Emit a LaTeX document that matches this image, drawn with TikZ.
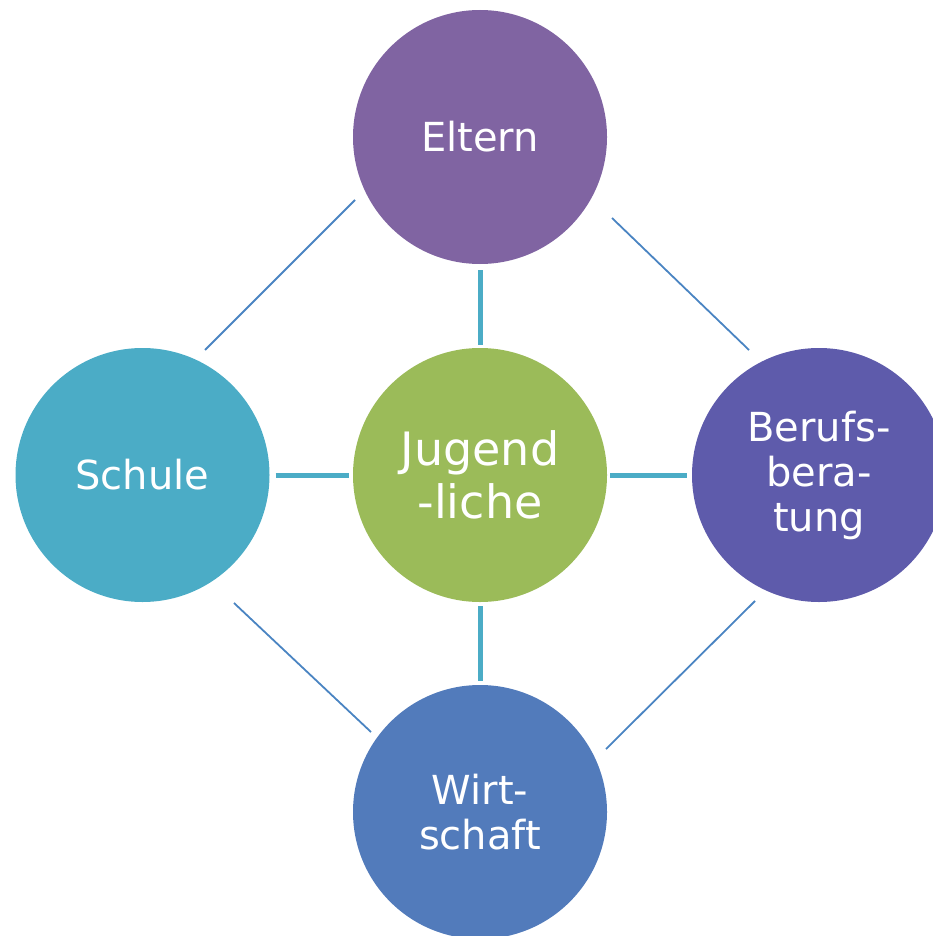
\documentclass[tikz,border=0pt]{standalone}
\usepackage{fontspec}
\setmainfont{DejaVu Sans}
\definecolor{cEltern}{HTML}{8064A2}
\definecolor{cSchule}{HTML}{4BACC6}
\definecolor{cJugend}{HTML}{9BBB59}
\definecolor{cBeruf}{HTML}{5E5BAB}
\definecolor{cWirt}{HTML}{527BBB}
\definecolor{cThick}{HTML}{4BACC6}
\definecolor{cThin}{HTML}{4A84C2}
\begin{document}
\begin{tikzpicture}[x=1pt,y=-1pt,
  bubble/.style={circle,minimum size=254pt,inner sep=0pt,draw=none,text=white,align=center,
    font=\fontsize{40}{45}\selectfont},
  thickcon/.style={draw=cThick,line width=5pt},
  thincon/.style={draw=cThin,line width=1.8pt}]
\useasboundingbox (0,0) rectangle (932,936);
\node[bubble,fill=cEltern] (E) at (480,137) {Eltern};
\node[bubble,fill=cJugend,font=\fontsize{46}{53}\selectfont] (J) at (480,475) {Jugend\\-liche};
\node[bubble,fill=cSchule] (S) at (142.5,475) {Schule};
\node[bubble,fill=cBeruf] (B) at (819,475) {Berufs-\\bera-\\tung};
\node[bubble,fill=cWirt] (W) at (480,812) {Wirt-\\schaft};
\draw[thickcon,shorten <=6pt,shorten >=3pt] (E) -- (J);
\draw[thickcon,shorten <=6pt,shorten >=4pt] (S) -- (J);
\draw[thickcon,shorten <=3pt,shorten >=5pt] (J) -- (B);
\draw[thickcon,shorten <=4pt,shorten >=4pt] (J) -- (W);
\coordinate (a1) at (205,350); \coordinate (a2) at (355,200);
\coordinate (b1) at (612,218); \coordinate (b2) at (749,350);
\coordinate (c1) at (234,603); \coordinate (c2) at (371,732);
\coordinate (d1) at (606,749); \coordinate (d2) at (755,601);
\draw[thincon] (a1) -- (a2);
\draw[thincon] (b1) -- (b2);
\draw[thincon] (c1) -- (c2);
\draw[thincon] (d1) -- (d2);
\end{tikzpicture}
\end{document}
